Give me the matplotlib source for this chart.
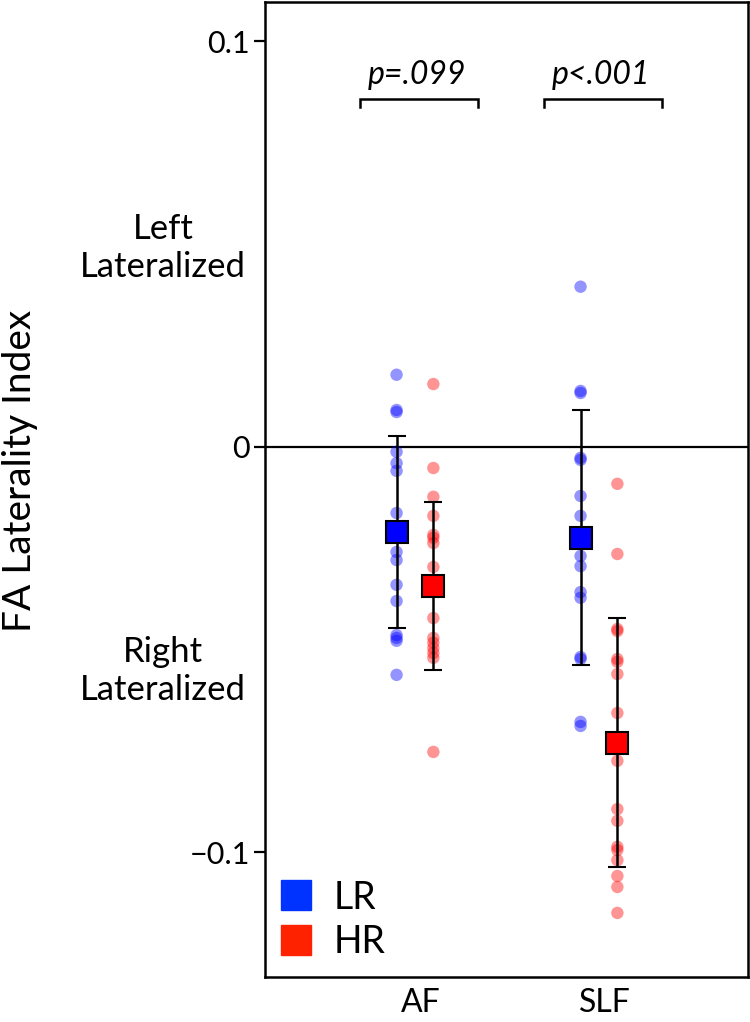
# FA laterality index by tract, LR vs HR groups
import numpy as np
import matplotlib
matplotlib.use("Agg")
import matplotlib.pyplot as plt
from matplotlib.lines import Line2D
import matplotlib.transforms as mtransforms

plt.rcParams['font.family'] = ['Lato', 'DejaVu Sans']

tracts = ["AF", "SLF"]
groups = ["LR", "HR"]

# individual subjects
af_lr = [0.0178, 0.0091, 0.0086, -0.0012, -0.0040, -0.0059, -0.0163, -0.0259,
         -0.0279, -0.0340, -0.0380, -0.0464, -0.0471, -0.0478, -0.0562]
af_hr = [0.0155, -0.0052, -0.0123, -0.0170, -0.0217, -0.0224, -0.0237, -0.0296,
         -0.0422, -0.0471, -0.0483, -0.0496, -0.0508, -0.0520, -0.0752]
slf_lr = [0.0395, 0.0138, 0.0133, -0.0027, -0.0032, -0.0121, -0.0170, -0.0269,
          -0.0294, -0.0358, -0.0372, -0.0518, -0.0523, -0.0678, -0.0688]
slf_hr = [-0.0091, -0.0264, -0.0449, -0.0454, -0.0523, -0.0530, -0.0560, -0.0656,
          -0.0774, -0.0893, -0.0922, -0.0986, -0.0994, -0.1019, -0.1058, -0.1085,
          -0.1149]

# group means and SD (error bars)
lr_mean = [-0.0210, -0.0224]
lr_sd = [0.0237, 0.0314]
hr_mean = [-0.0343, -0.0730]
hr_sd = [0.0208, 0.0307]

p_labels = ["p=.099", "p<.001"]

lr_color = "#0000ff"
hr_color = "#ff0000"
off = 0.1


def main():
    fig = plt.figure(figsize=(7.5, 10.22), dpi=100)
    ax = fig.add_axes([265/750, 1-977/1022, 483/750, 975/1022])

    x = np.arange(len(tracts))
    lr_pts = [af_lr, slf_lr]
    hr_pts = [af_hr, slf_hr]

    ax.axhline(0, color="black", lw=1.6, zorder=1)

    for i in range(len(tracts)):
        ax.scatter([x[i]-off]*len(lr_pts[i]), lr_pts[i], s=80, color=lr_color,
                   alpha=0.42, edgecolors="none", zorder=2)
        ax.scatter([x[i]+off]*len(hr_pts[i]), hr_pts[i], s=80, color=hr_color,
                   alpha=0.42, edgecolors="none", zorder=2)

    ax.errorbar(x-off, lr_mean, yerr=lr_sd, fmt='s', color="black", ecolor="black",
                elinewidth=1.8, capsize=6.5, capthick=1.8, markersize=16,
                markerfacecolor=lr_color, markeredgecolor="black", markeredgewidth=1.5,
                zorder=3)
    ax.errorbar(x+off, hr_mean, yerr=hr_sd, fmt='s', color="black", ecolor="black",
                elinewidth=1.8, capsize=6.5, capthick=1.8, markersize=16,
                markerfacecolor=hr_color, markeredgecolor="black", markeredgewidth=1.5,
                zorder=3)

    # significance brackets
    for i in range(len(tracts)):
        x0 = x[i] + 0.02 - 0.32
        x1 = x[i] + 0.02 + 0.32
        ax.plot([x0, x0, x1, x1], [0.0838, 0.0858, 0.0858, 0.0838], color="black",
                lw=1.8, solid_joinstyle="miter")
        ax.text(x[i] + 0.01, 0.0917, p_labels[i], ha="center", va="center",
                fontsize=23, style="italic")

    ax.set_xlim(-0.815, 1.81)
    ax.set_ylim(-0.1307, 0.1097)
    ax.set_xticks(x + 0.03)
    ax.set_xticklabels(tracts, fontsize=23)
    ax.set_yticks([0.1, 0, -0.1])
    ax.set_yticklabels(["0.1", "0", "\u22120.1"], fontsize=22)
    ax.tick_params(axis="x", length=0, pad=8)
    ax.tick_params(axis="y", length=8, width=1.6, pad=3)
    for sp in ax.spines.values():
        sp.set_linewidth(1.8)

    trans = mtransforms.blended_transform_factory(ax.transAxes, ax.transData)
    ax.text(-0.211, 0.049, "Left\nLateralized", transform=trans, ha="center",
            va="center", fontsize=25, linespacing=1.25)
    ax.text(-0.211, -0.0552, "Right\nLateralized", transform=trans, ha="center",
            va="center", fontsize=25, linespacing=1.25)

    fig.text(20/750, 1-471/1022, "FA Laterality Index", rotation=90, ha="center",
             va="center", fontsize=28)

    handles = [Line2D([], [], marker='s', linestyle='none', markersize=21,
                      markerfacecolor="#0033ff", markeredgecolor="#0033ff"),
               Line2D([], [], marker='s', linestyle='none', markersize=21,
                      markerfacecolor="#ff2200", markeredgecolor="#ff2200")]
    ax.legend(handles, groups, loc="upper left", bbox_to_anchor=(0.033, 0.1),
              frameon=False, fontsize=27, handlelength=0.8, handletextpad=0.6,
              labelspacing=0.22, borderpad=0, borderaxespad=0)

    fig.savefig("out.png", dpi=100)


if __name__ == "__main__":
    main()
